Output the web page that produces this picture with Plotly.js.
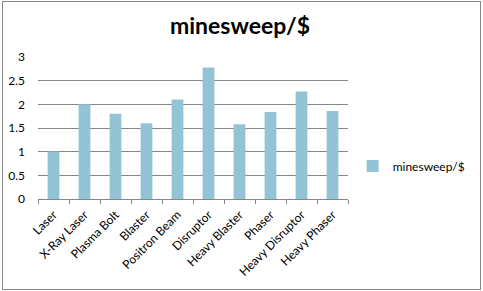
<!DOCTYPE html>
<html><head><meta charset="utf-8">
<script src="https://cdn.plot.ly/plotly-3.0.1.min.js"></script>
<style>
html,body{margin:0;padding:0;background:#fff;}
#wrap{position:relative;width:483px;height:291px;}
#chart{width:483px;height:291px;}
#frame{position:absolute;left:2px;top:1px;width:477px;height:287px;border:1px solid #868686;pointer-events:none;}
</style></head>
<body><div id="wrap"><div id="chart"></div><div id="frame"></div></div>
<script>
const categories = ["Laser","X-Ray Laser","Plasma Bolt","Blaster","Positron Beam","Disruptor","Heavy Blaster","Phaser","Heavy Disruptor","Heavy Phaser"];
const values = [1.0, 2.0, 1.8, 1.6, 2.1, 2.78, 1.58, 1.84, 2.27, 1.86];
const seriesName = "minesweep/$";
const yTicks = [0, 0.5, 1, 1.5, 2, 2.5, 3];
const yTickText = ["0","0.5","1","1.5","2","2.5","3"];

const font = "Lato, 'Open Sans', sans-serif";
Plotly.newPlot('chart', [{
  type: 'bar', x: categories, y: values, name: seriesName,
  marker: {color: '#93C4D6', line: {width: 0}}
}], {
  width: 483, height: 291,
  margin: {l: 38, r: 122, t: 57, b: 92},
  paper_bgcolor: '#fff', plot_bgcolor: '#fff',
  font: {family: font, size: 12, color: '#000'},
  title: {text: '<b>minesweep/$</b>', font: {family: font, size: 23, color: '#000'}, x: 0.497, xanchor: 'center', y: 0.91, yanchor: 'middle'},
  bargap: 0.62,
  showlegend: true,
  legend: {x: 1.015, xanchor: 'left', y: 0.232, yanchor: 'middle', font: {family: font, size: 12}, itemwidth: 30, bgcolor: 'rgba(0,0,0,0)'},
  xaxis: {
    type: 'category', tickangle: -45, ticks: 'outside', tickson: 'boundaries', ticklen: 4, tickcolor: '#868686',
    showline: true, linecolor: '#868686', linewidth: 1, showgrid: false, tickfont: {family: font, size: 12}, ticklabelstandoff: 3, automargin: false
  },
  yaxis: {
    range: [0, 3], tickvals: yTicks, ticktext: yTickText, showgrid: true, gridcolor: '#868686', gridwidth: 1,
    showline: false, zeroline: false, ticks: '', ticklabelstandoff: 12, tickfont: {family: font, size: 12}, automargin: false
  }
}, {displayModeBar: false, staticPlot: true});
</script></body></html>
